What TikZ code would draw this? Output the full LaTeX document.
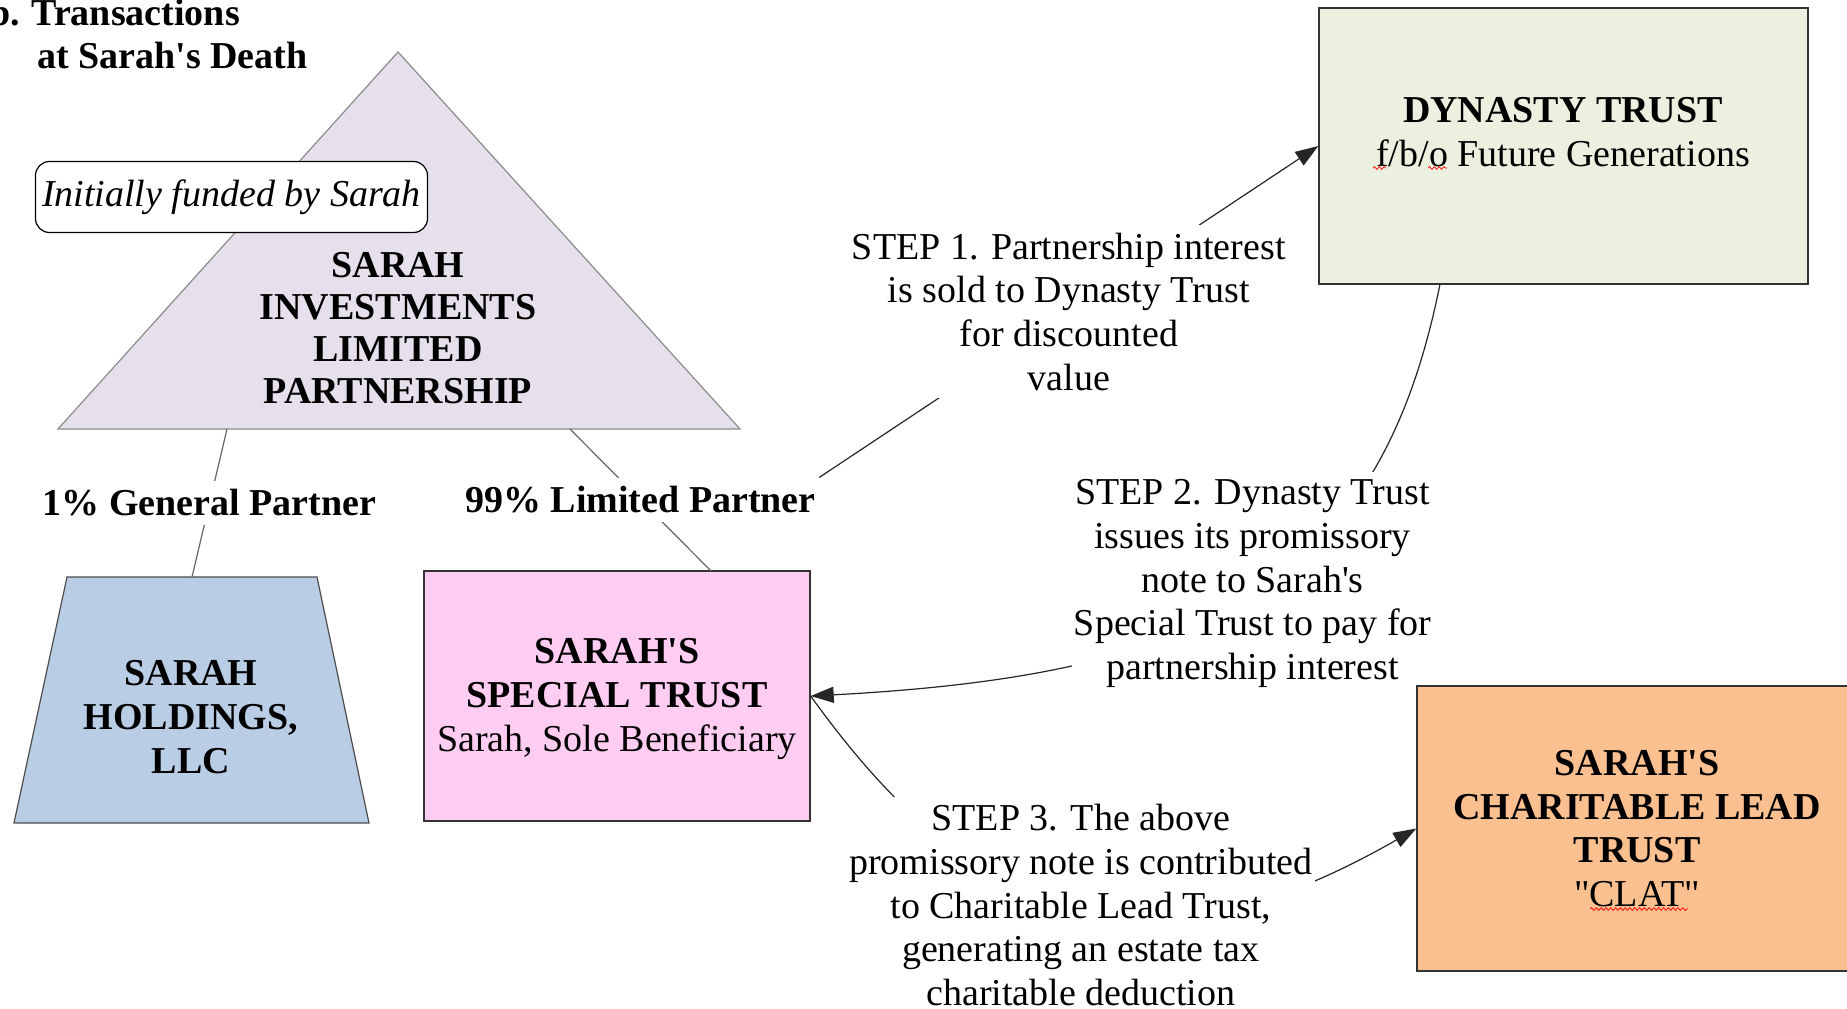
\documentclass[tikz,border=0pt]{standalone}
\usepackage{fontspec}
\setmainfont{Liberation Serif}
\usetikzlibrary{arrows.meta,decorations.pathmorphing}
\definecolor{lav}{HTML}{E5E0EC}
\definecolor{holdblue}{HTML}{B9CDE5}
\definecolor{stpink}{HTML}{FFCCF2}
\definecolor{dyngreen}{HTML}{EBF1DE}
\definecolor{clator}{HTML}{FAC090}
\newcommand{\ap}{\textquotesingle}
\newcommand{\dq}{\textquotedbl}
\begin{document}
\begin{tikzpicture}[x=0.5pt,y=-0.5pt,
 base/.style={font=\fontsize{19pt}{21.8pt}\selectfont, align=center, inner sep=0pt},
 boldtxt/.style={font=\fontsize{19pt}{21.8pt}\selectfont\bfseries, align=center, inner sep=0pt},
 box/.style={draw=black!80, line width=0.7pt, font=\fontsize{19pt}{21.8pt}\selectfont, align=center, inner sep=0pt},
 partlbl/.style={boldtxt, fill=white, inner xsep=1.5pt, text height=17pt, text depth=5pt},
 steplbl/.style={base, fill=white, inner xsep=1pt, inner ysep=4pt},
 conn/.style={draw=black!60, line width=0.6pt},
 flow/.style={draw=black!85, line width=0.6pt},
 flowarrow/.style={flow, -{Triangle[length=11.5pt,width=8pt]}},
 squiggle/.style={draw=red, line width=0.35pt, decorate, decoration={snake, amplitude=0.7pt, segment length=2.4pt}}
]
\useasboundingbox (0,0) rectangle (1847,1008);
\fill[white] (0,0) rectangle (1847,1008);

% title
\node[boldtxt, anchor=base west] (title1) at (-11,25) {b.\hspace{5.75pt}Transactions};
\node[boldtxt, anchor=base west] (title2) at (37,68) {at Sarah\ap s Death};

% partnership triangle
\draw[fill=lav, draw=black!45, line width=0.6pt] (398,52) -- (740,429) -- (58,429) -- cycle;
\coordinate (tribaseA) at (227,429);
\coordinate (tribaseB) at (570,429);
\node[boldtxt, font=\fontsize{19pt}{20.9pt}\selectfont\bfseries] (silp) at (398,328) {SARAH\\INVESTMENTS\\LIMITED\\PARTNERSHIP};
\node[draw=black, fill=white, line width=0.6pt, rounded corners=7pt, minimum width=196pt, minimum height=35.5pt, font=\fontsize{19pt}{21.8pt}\selectfont\itshape, inner sep=0pt] (init) at (231.5,197) {Initially funded by Sarah};

% holdings trapezoid
\draw[fill=holdblue, draw=black!70, line width=0.6pt] (67,577) -- (317,577) -- (369,823) -- (14,823) -- cycle;
\coordinate (holdtop) at (192,577);
\node[boldtxt] (shl) at (191,717) {SARAH\\HOLDINGS,\\LLC};

% boxes
\node[box, fill=stpink, minimum width=193pt, minimum height=125pt] (st) at (617,696) {\rule{0pt}{15.5pt}\textbf{SARAH\ap S}\\\textbf{SPECIAL TRUST}\\Sarah, Sole Beneficiary};
\coordinate (sttop) at (711,571);
\node[box, fill=dyngreen, minimum width=244.5pt, minimum height=138pt] (dyn) at (1563.5,146) {};
\node[base] (dynt) at (1563,132) {\textbf{DYNASTY TRUST}\\f/b/o Future Generations};
\coordinate (dynbot) at (1440,284);

% connectors
\draw[conn] (tribaseA) -- node[partlbl] (gp) {1\% General Partner} (holdtop);
\draw[conn] (tribaseB) -- node[partlbl] (lp) {99\% Limited Partner} (sttop);
\draw[flowarrow] (lp.north east) -- node[steplbl] (step1) {STEP 1. Partnership interest\\is sold to Dynasty Trust\\for discounted\\value} (dyn.west);
\draw[flowarrow] (dynbot) .. controls (1380,584) and (1210,675) .. (st.east)
  node[steplbl, pos=0.5, yshift=5.5pt] (step2) {STEP 2. Dynasty Trust\\issues its promissory\\note to Sarah\ap s\\Special Trust to pay for\\partnership interest};

% charitable lead trust (drawn over the STEP 2 label box)
\node[box, fill=clator, minimum width=220pt, minimum height=142.5pt] (clat) at (1637,828.5) {\textbf{SARAH\ap S}\\\textbf{CHARITABLE LEAD}\\\textbf{TRUST}\\\dq CLAT\dq};

\draw[flowarrow] (st.east) .. controls (984,938) and (1156,978) .. (clat.west)
  node[steplbl, pos=0.5, yshift=2pt] (step3) {STEP 3. The above\\promissory note is contributed\\to Charitable Lead Trust,\\generating an estate tax\\charitable deduction};

% spell-check marks
\draw[squiggle] (1373,168) -- (1386,168);
\draw[squiggle] (1428,168) -- (1447,168);
\draw[squiggle] (1590,909) -- (1688,909);
\end{tikzpicture}
\end{document}
